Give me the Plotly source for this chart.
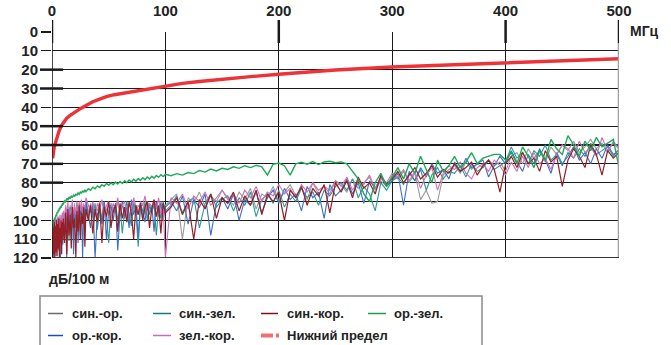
import plotly.graph_objects as go

# ---------------- data ----------------
FREQ_MHZ = [
    0.5, 1, 1.5, 2, 2.5, 3, 3.5, 4, 4.5, 5, 5.5, 6, 6.5, 7, 7.5, 8, 8.5, 9, 9.5, 10,
    11, 12, 13, 14, 15, 16, 17, 18, 19, 20, 21, 22, 23, 24, 25, 26, 27, 28, 29, 30,
    32, 34, 36, 38, 40, 42, 44, 46, 48, 50, 52, 54, 56, 58, 60, 62, 64, 66, 68, 70,
    72, 74, 76, 78, 80, 82, 84, 86, 88, 90, 92, 94, 96, 98, 100,
    105, 110, 115, 120, 125, 130, 135, 140, 145, 150,
    155, 160, 165, 170, 175, 180, 185, 190, 195, 200,
    205, 210, 215, 220, 225, 230, 235, 240, 245, 250,
    255, 260, 265, 270, 275, 280, 285, 290, 295, 300,
    305, 310, 315, 320, 325, 330, 335, 340, 345, 350,
    355, 360, 365, 370, 375, 380, 385, 390, 395, 400,
    405, 410, 415, 420, 425, 430, 435, 440, 445, 450,
    455, 460, 465, 470, 475, 480, 485, 490, 495, 500,
]

SIN_OR = [
    112, 103, 116, 101, 109, 100, 114, 99, 107, 101, 110, 98, 106, 100, 104, 97, 108, 99, 103, 96,
    100, 93, 106, 95, 98, 92, 103, 94, 97, 91, 101, 93, 96, 90, 99, 92, 95, 91, 100, 89,
    96, 91, 99, 93, 95, 90, 100, 92, 94, 97, 91, 93, 96, 90, 98, 92, 95, 91, 100, 93,
    90, 96, 92, 94, 91, 97, 90, 93, 95, 92, 91, 98, 90, 94, 92,
    89, 86, 110, 88, 91, 85, 93, 87, 90, 84,
    88, 92, 85, 89, 83, 94, 86, 88, 82, 90,
    85, 81, 87, 83, 89, 80, 86, 82, 84, 79,
    81, 85, 78, 83, 80, 77, 84, 79, 82, 76,
    78, 74, 80, 75, 89, 84, 91, 90, 76, 73,
    71, 75, 69, 73, 70, 72, 68, 71, 69, 74,
    66, 64, 70, 62, 67, 63, 69, 61, 65, 60,
    63, 58, 64, 61, 57, 62, 59, 64, 58, 62,
]

SIN_ZEL = [
    115, 104, 119, 100, 110, 103, 117, 101, 108, 104, 113, 99, 111, 102, 106, 100, 112, 98, 105, 97,
    108, 95, 102, 93, 111, 97, 99, 92, 106, 94, 104, 91, 100, 95, 108, 92, 98, 94, 103, 91,
    99, 93, 97, 91, 105, 94, 99, 90, 98, 112, 93, 96, 91, 100, 92, 107, 95, 90, 97, 103,
    91, 95, 114, 93, 98, 90, 100, 92, 96, 91, 108, 93, 99, 90, 95,
    92, 87, 96, 90, 88, 104, 91, 86, 93, 89,
    87, 95, 88, 92, 85, 98, 89, 86, 91, 84,
    93, 86, 90, 83, 88, 85, 92, 84, 87, 82,
    80, 84, 78, 88, 82, 86, 95, 80, 84, 79,
    77, 81, 75, 79, 73, 84, 76, 72, 78, 74,
    75, 71, 77, 70, 74, 72, 68, 73, 71, 69,
    61, 67, 64, 70, 63, 66, 60, 68, 65, 71,
    64, 67, 62, 66, 59, 65, 63, 61, 66, 62,
]

SIN_KOR = [
    120, 101, 118, 99, 120, 103, 117, 100, 119, 102, 115, 99, 120, 104, 112, 100, 118, 101, 110, 99,
    112, 96, 118, 94, 108, 97, 115, 93, 104, 99, 120, 95, 106, 92, 110, 96, 102, 93, 114, 94,
    100, 92, 107, 94, 101, 91, 112, 93, 98, 90, 104, 95, 92, 106, 91, 99, 93, 101, 90, 96,
    110, 92, 97, 91, 100, 93, 90, 104, 94, 89, 98, 92, 107, 91, 96,
    93, 88, 97, 90, 110, 89, 94, 86, 99, 88,
    91, 85, 95, 87, 92, 84, 97, 86, 90, 85,
    100, 84, 88, 82, 92, 83, 87, 81, 96, 80,
    85, 79, 88, 77, 83, 80, 86, 76, 81, 78,
    74, 80, 76, 72, 78, 75, 71, 77, 73, 75,
    70, 74, 72, 69, 76, 71, 68, 73, 85, 70,
    66, 72, 64, 70, 67, 74, 63, 69, 66, 82,
    68, 62, 66, 72, 60, 65, 76, 63, 67, 64,
]

OR_ZEL = [
    104, 102.5, 100.2, 100.8, 98.4, 99, 97, 97.8, 95.6, 96.3, 94.4, 95.3, 93.4, 94.2, 92.5, 93.4, 91.6, 92.3, 90.7, 91.6,
    89.6, 90.2, 88.4, 89.3, 87.6, 88.5, 86.9, 87.9, 86.6, 87.4, 85.9, 86.8, 85.4, 86.2, 84.8, 85.7, 84.3, 85.2, 83.8, 84.8,
    83.2, 84, 82.4, 83.2, 81.7, 82.6, 81.1, 81.9, 80.4, 81.4, 80.1, 81.1, 79.7, 80.7, 79.4, 80.4, 79, 80, 78.6, 79.6,
    78.2, 79.2, 77.8, 78.8, 77.4, 78.4, 77, 78, 76.6, 77.6, 76.2, 77.2, 75.8, 76.8, 75.6,
    76.3, 75.2, 76, 74.6, 75.2, 73.6, 74.4, 72.8, 73.8, 72.4,
    73, 71.6, 72.4, 71, 72, 70.8, 71.6, 76, 70.2, 69.6,
    71, 76, 70, 69.2, 70.2, 68.8, 70.4, 69, 68.6, 69.4,
    69, 70, 74, 78, 86, 90, 80, 75, 82, 77,
    72, 78, 70, 75, 66, 73, 80, 68, 74, 71,
    66, 72, 69, 64, 70, 67, 66, 65, 65, 68,
    64, 70, 61, 66, 72, 63, 68, 57, 62, 65,
    55, 60, 66, 58, 63, 56, 61, 59, 57, 72,
]

OR_KOR = [
    118, 105, 120, 103, 112, 100, 119, 106, 110, 102, 116, 101, 108, 99, 120, 103, 109, 100, 113, 98,
    104, 94, 120, 96, 100, 93, 108, 91, 118, 95, 99, 92, 112, 94, 97, 91, 120, 93, 101, 90,
    96, 104, 91, 120, 97, 93, 102, 90, 110, 95, 92, 100, 91, 116, 96, 90, 99, 93, 104, 89,
    97, 92, 109, 91, 95, 101, 90, 97, 92, 106, 90, 96, 91, 100, 93,
    90, 95, 87, 102, 89, 93, 86, 108, 91, 88,
    94, 86, 100, 89, 92, 85, 96, 88, 84, 91,
    83, 89, 86, 95, 82, 88, 85, 99, 81, 87,
    84, 78, 86, 80, 91, 79, 83, 77, 82, 79,
    75, 92, 74, 79, 72, 77, 70, 75, 73, 78,
    69, 74, 67, 72, 70, 68, 77, 71, 66, 70,
    63, 69, 74, 65, 70, 62, 68, 75, 64, 70,
    66, 61, 68, 64, 70, 62, 67, 60, 65, 63,
]

ZEL_KOR = [
    114, 102, 117, 100, 111, 99, 113, 102, 106, 98, 112, 100, 104, 97, 109, 99, 103, 96, 105, 95,
    102, 92, 98, 90, 105, 94, 96, 89, 100, 93, 97, 90, 103, 91, 95, 89, 98, 92, 94, 88,
    92, 96, 90, 98, 91, 95, 89, 97, 92, 90, 99, 91, 94, 88, 96, 92, 90, 98, 91, 95,
    88, 93, 97, 90, 92, 87, 95, 91, 93, 89, 94, 88, 97, 92, 120,
    88, 91, 86, 94, 87, 90, 85, 92, 88, 84,
    89, 86, 91, 84, 88, 82, 90, 85, 87, 81,
    86, 83, 88, 81, 85, 80, 84, 82, 86, 79,
    82, 77, 84, 79, 81, 76, 83, 78, 80, 75,
    77, 73, 79, 74, 83, 76, 72, 84, 75, 71,
    73, 69, 75, 78, 72, 70, 74, 68, 71, 76,
    69, 74, 66, 72, 64, 70, 67, 73, 65, 60,
    62, 67, 58, 64, 61, 66, 56, 63, 59, 62,
]

LIMIT_FREQ = [0.6, 1, 2, 3, 4, 5, 6, 8, 10, 13, 16, 20, 25, 30, 36, 42, 48, 55, 63, 70,
              78, 88, 100, 115, 130, 150, 175, 200, 250, 300, 350, 400, 450, 500]
LIMIT_DB = [67, 65, 61, 59, 56.5, 54.5, 53, 50, 48, 45.8, 44.3, 42.6, 40.7, 39, 37, 35.6, 34.3, 33.3, 32.5, 31.6,
            30.8, 29.6, 28.4, 27.3, 26.3, 25, 23.7, 22.4, 20.2, 18.6, 17.4, 16.3, 15.2, 14.2]

X_TICKS = [0, 100, 200, 300, 400, 500]
Y_TICKS = [0, 10, 20, 30, 40, 50, 60, 70, 80, 90, 100, 110, 120]

LEGEND_ROW1 = ["син.-ор.", "син.-зел.", "син.-кор.", "ор.-зел."]
LEGEND_ROW2 = ["ор.-кор.", "зел.-кор.", "Нижний предел"]

# ---------------- styles ----------------
FONT = "Liberation Sans, Arial, Helvetica, sans-serif"
TXT = "#222222"
GRID = "#1a1a1a"

series = [
    ("син.-ор.", SIN_OR, "#9a9a9a", "#6b6b6b", 1.1),
    ("син.-зел.", SIN_ZEL, "#2a9a96", "#197a78", 1.1),
    ("ор.-кор.", OR_KOR, "#3d6fc2", "#1f4fa8", 1.1),
    ("зел.-кор.", ZEL_KOR, "#cc70b8", "#c46cc4", 1.1),
    ("син.-кор.", SIN_KOR, "#961e25", "#7d1418", 1.2),
    ("ор.-зел.", OR_ZEL, "#1ea858", "#1f9a4e", 1.4),
]

fig = go.Figure()
for name, vals, col, _, lw in series:
    fig.add_trace(go.Scatter(x=FREQ_MHZ, y=vals, mode="lines", name=name,
                             line=dict(color=col, width=lw)))
fig.add_trace(go.Scatter(x=LIMIT_FREQ, y=LIMIT_DB, mode="lines", name="Нижний предел",
                         line=dict(color="#ee3338", width=3.4)))

W, H = 671, 345
L, R, T, B = 52, 52, 32, 87
PW, PH = W - L - R, H - T - B


def px_x(p):
    return (p - L) / PW


def px_y(p):
    return (H - B - p) / PH


shapes = []
# top thick ticks
for xv in [0, 200, 400, 500]:
    shapes.append(dict(type="line", xref="x", yref="paper", x0=xv, x1=xv,
                       y0=px_y(20), y1=px_y(43), line=dict(color=GRID, width=2.5)))
# left axis line
shapes.append(dict(type="line", xref="x", yref="paper", x0=0, x1=0, y0=0, y1=px_y(20),
                   line=dict(color=GRID, width=1.6)))
# right border grey
shapes.append(dict(type="line", xref="x", yref="paper", x0=500, x1=500, y0=0, y1=px_y(43),
                   line=dict(color="#a0a0a0", width=2.5)))
# bottom border
shapes.append(dict(type="line", xref="x", yref="y", x0=0, x1=500, y0=120, y1=120,
                   line=dict(color="#333333", width=2)))
# left thick ticks
for yv in [20, 30, 50, 60, 70, 80]:
    shapes.append(dict(type="line", xref="paper", yref="y", x0=px_x(40), x1=px_x(63),
                       y0=yv, y1=yv, line=dict(color=GRID, width=2.5)))
# legend box
shapes.append(dict(type="rect", xref="paper", yref="paper", x0=px_x(40), x1=px_x(482),
                   y0=px_y(352), y1=px_y(296), line=dict(color="#8a8a8a", width=1.5),
                   fillcolor="rgba(0,0,0,0)"))

legend_colors = {s[0]: s[3] for s in series}
col_line = [(48, 63), (153, 171), (261, 278), (368, 386)]
col_text = [70, 177, 285, 392]
row_y = [313.5, 335.5]

annotations = []
for r, row in enumerate([LEGEND_ROW1, LEGEND_ROW2]):
    for c, name in enumerate(row):
        yy = px_y(row_y[r])
        x0, x1 = col_line[c]
        if name in legend_colors:
            shapes.append(dict(type="line", xref="paper", yref="paper", x0=px_x(x0), x1=px_x(x1),
                               y0=yy, y1=yy, line=dict(color=legend_colors[name], width=1.5)))
        else:
            shapes.append(dict(type="line", xref="paper", yref="paper", x0=px_x(x0), x1=px_x(x0 + 12),
                               y0=yy, y1=yy, line=dict(color="#f07070", width=4)))
            shapes.append(dict(type="line", xref="paper", yref="paper", x0=px_x(x0 + 15), x1=px_x(x0 + 18),
                               y0=yy, y1=yy, line=dict(color="#f07070", width=4)))
        annotations.append(dict(xref="paper", yref="paper", x=px_x(col_text[c]), y=yy,
                                text=name, showarrow=False, xanchor="left", yanchor="middle",
                                font=dict(family=FONT, size=13, color=TXT, weight="bold")))

annotations.append(dict(xref="paper", yref="paper", x=px_x(628), y=px_y(31), text="МГц",
                        showarrow=False, xanchor="left", yanchor="middle",
                        font=dict(family=FONT, size=14, color=TXT, weight="bold")))
annotations.append(dict(xref="paper", yref="paper", x=px_x(47), y=px_y(279), text="дБ/100 м",
                        showarrow=False, xanchor="left", yanchor="middle",
                        font=dict(family=FONT, size=14, color=TXT, weight="bold")))

fig.update_layout(
    width=W, height=H,
    margin=dict(l=L, r=R, t=T, b=B, autoexpand=False),
    paper_bgcolor="white", plot_bgcolor="white",
    showlegend=False,
    hovermode=False,
    font=dict(family=FONT, color=TXT),
    shapes=shapes,
    annotations=annotations,
    xaxis=dict(range=[0, 500], side="top", tickvals=X_TICKS, ticks="", automargin=False,
               ticklabelstandoff=12, showgrid=True, gridcolor=GRID, gridwidth=1.2,
               zeroline=False, showline=False,
               tickfont=dict(family=FONT, size=15, color=TXT, weight="bold")),
    yaxis=dict(range=[120, 0], tickvals=Y_TICKS, ticks="outside", ticklen=10, automargin=False,
               tickcolor=GRID, tickwidth=1.2, showgrid=True, gridcolor=GRID, gridwidth=1.2,
               zeroline=False, showline=False,
               tickfont=dict(family=FONT, size=15, color=TXT, weight="bold")),
)

fig.write_html("out.html", config={"displayModeBar": False, "staticPlot": True},
               post_script="document.body.style.margin='0';document.body.style.overflow='hidden';")
